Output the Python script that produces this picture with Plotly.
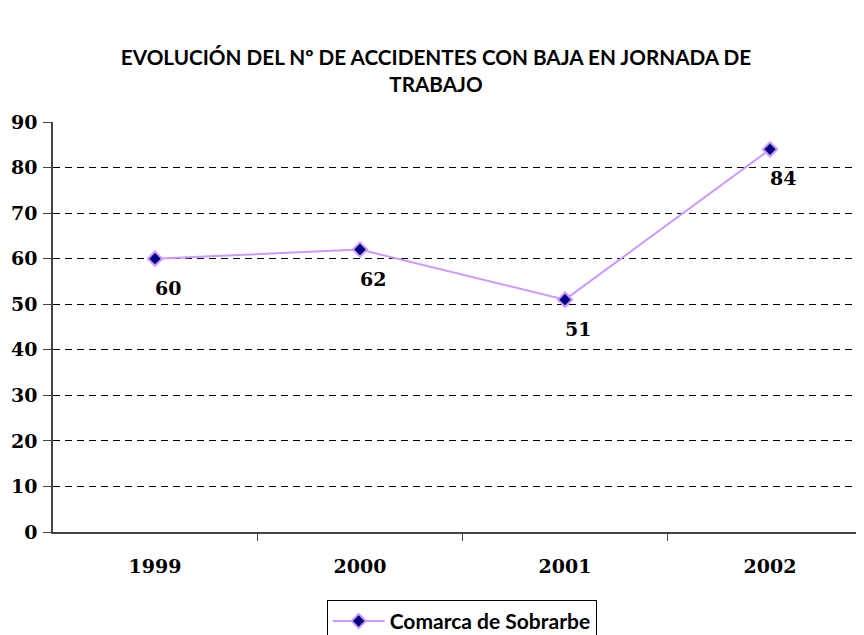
import plotly.graph_objects as go

years = [1999, 2000, 2001, 2002]
accidents = [60, 62, 51, 84]
series_name = "Comarca de Sobrarbe"
title_text = "EVOLUCIÓN DEL Nº DE ACCIDENTES CON BAJA EN JORNADA DE<br>TRABAJO"
y_ticks = [0, 10, 20, 30, 40, 50, 60, 70, 80, 90]

serif = "DejaVu Serif"
sans = "Lato"

fig = go.Figure()
fig.add_trace(go.Scatter(
    x=years, y=accidents, mode="lines+markers", name=series_name,
    line=dict(color="#CC99FF", width=2),
    marker=dict(symbol="diamond", size=11, color="#000080",
                line=dict(color="#CC99FF", width=2)),
))

for xv, yv in zip(years, accidents):
    fig.add_annotation(x=xv, y=yv, text=str(yv), showarrow=False,
                       xshift=13, yshift=-29,
                       font=dict(family=serif, size=19, color="black", weight="bold"))

# page body has an 8px margin, so the figure is 8px smaller and offsets are shifted
fig.update_layout(
    width=856, height=627,
    margin=dict(l=45, r=0, t=114, b=103, autoexpand=False),
    paper_bgcolor="white", plot_bgcolor="white",
    title=dict(text=title_text, x=0.5, xanchor="center",
               y=0.909, yanchor="middle",
               font=dict(family=sans, size=20.7, color="black", weight="bold")),
    showlegend=True,
    legend=dict(xref="container", yref="container", x=0.530, y=0.056,
                xanchor="center", yanchor="top", orientation="h",
                itemwidth=52,
                bordercolor="black", borderwidth=1,
                font=dict(family=sans, size=21, color="black", weight="bold")),
    xaxis=dict(range=[1998.5024, 2002.4585], tickvals=years,
               ticks="", automargin=False,
               showline=True, linecolor="#444", linewidth=1.5,
               showgrid=False, zeroline=False,
               ticklabelstandoff=16,
               tickfont=dict(family=serif, size=19, color="black", weight="bold"),
               minor=dict(tick0=1999.5, dtick=1, ticks="outside",
                          ticklen=7, tickcolor="#444", showgrid=False)),
    yaxis=dict(range=[0, 90], tickvals=y_ticks, automargin=False,
               ticks="outside", ticklen=8, tickcolor="#444",
               ticklabelstandoff=2,
               showline=True, linecolor="#444", linewidth=1.5,
               showgrid=True, gridcolor="black", gridwidth=1,
               griddash="7px,5px", zeroline=False,
               tickfont=dict(family=serif, size=19, color="black", weight="bold")),
)

fig.write_html("out.html")
